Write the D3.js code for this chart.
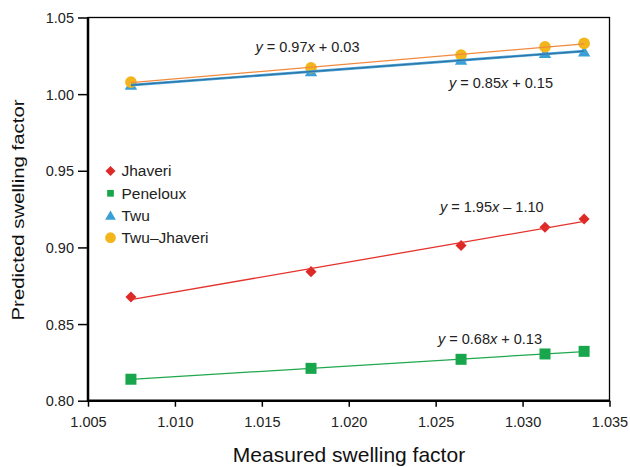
<!DOCTYPE html>
<html><head><meta charset="utf-8">
<script src="https://cdn.jsdelivr.net/npm/d3@7"></script>
<style>body{margin:0;background:#fff}svg{display:block}text{font-family:Arial,"Liberation Sans",sans-serif}</style>
</head><body><svg id="c" width="630" height="467"></svg>
<script>
const measured = [1.00747, 1.01783, 1.02646, 1.03129, 1.03354];
const jhaveri = [0.8677, 0.8842, 0.9012, 0.9132, 0.9186];
const peneloux = [0.8140, 0.8211, 0.8270, 0.8305, 0.8322];
const twu = [1.0059, 1.0146, 1.0222, 1.0266, 1.0276];
const twuJhaveri = [1.0078, 1.0172, 1.0255, 1.0309, 1.0331];
const xTicks = [1.005, 1.010, 1.015, 1.020, 1.025, 1.030, 1.035];
const yTicks = [0.80, 0.85, 0.90, 0.95, 1.00, 1.05];
const seriesNames = ["Jhaveri", "Peneloux", "Twu", "Twu\u2013Jhaveri"];
const equations = [
  ["0.97", "+", "0.03"],
  ["0.85", "+", "0.15"],
  ["1.95", "\u2013", "1.10"],
  ["0.68", "+", "0.13"]
];

const svg = d3.select("#c");
const L = 88, R = 609.5, T = 17.5, B = 400.7;
const x = d3.scaleLinear().domain([1.005, 1.035]).range([L, R]);
const y = d3.scaleLinear().domain([0.80, 1.05]).range([B, T]);

const series = [
  {name: seriesNames[0], vals: jhaveri, color: "#dd2a27", line: "#e4322c", sym: d3.symbolSquare, rot: 45, size: 61, lsize: 50},
  {name: seriesNames[1], vals: peneloux, color: "#17a64c", line: "#1fa84e", sym: d3.symbolSquare, rot: 0, size: 121, lsize: 45},
  {name: seriesNames[2], vals: twu, color: "#3a9fd6", line: "#2c74a8", sym: d3.symbolTriangle, rot: 0, size: 66, lsize: 50},
  {name: seriesNames[3], vals: twuJhaveri, color: "#f3b51c", line: "#f08a3e", sym: d3.symbolCircle, rot: 0, size: 107, lsize: 90}
];

function fit(xs, ys){
  const mx = d3.mean(xs), my = d3.mean(ys);
  let sxy=0, sxx=0;
  xs.forEach((v,i)=>{sxy+=(v-mx)*(ys[i]-my); sxx+=(v-mx)*(v-mx);});
  const m = sxy/sxx; return {m, b: my - m*mx};
}

// axes
const xAxis = d3.axisBottom(x).tickValues(xTicks).tickFormat(d3.format(".3f")).tickSize(6).tickSizeOuter(0);
const yAxis = d3.axisLeft(y).tickValues(yTicks).tickFormat(d3.format(".2f")).tickSize(10).tickSizeOuter(0);
const gx = svg.append("g").attr("transform", `translate(0,${B})`).call(xAxis);
const gy = svg.append("g").attr("transform", `translate(${L},0)`).call(yAxis);
[gx, gy].forEach(g=>{
  g.select(".domain").remove();
  g.selectAll(".tick line").attr("stroke","#000").attr("stroke-width",1.5);
  g.selectAll(".tick text").attr("fill","#222").style("font-size","14.5px");
});
gx.selectAll(".tick text").attr("y",26).attr("dy",null);
gy.selectAll(".tick text").attr("x",-14).attr("dy","0.35em");

// frame
svg.append("rect").attr("x",L).attr("y",T).attr("width",R-L).attr("height",B-T)
  .attr("fill","none").attr("stroke","#000").attr("stroke-width",1.3);
svg.append("line").attr("x1",L).attr("x2",L).attr("y1",T).attr("y2",B+1).attr("stroke","#000").attr("stroke-width",2.5);
svg.append("line").attr("x1",L-1).attr("x2",R).attr("y1",B).attr("y2",B).attr("stroke","#000").attr("stroke-width",2.5);

// markers
series.forEach(s=>{
  svg.append("g").selectAll("path").data(s.vals).join("path")
    .attr("d", d3.symbol().type(s.sym).size(s.size))
    .attr("transform",(d,i)=>`translate(${x(measured[i])},${y(d) + (s.sym===d3.symbolTriangle?1:0)}) rotate(${s.rot})`)
    .attr("fill", s.color);
});
// trend lines
series.forEach(s=>{
  const f = fit(measured, s.vals);
  const x0 = measured[0], x1 = measured[measured.length-1];
  const line = d3.line().x(d=>x(d[0])).y(d=>y(d[1]));
  const pts = [[x0, f.m*x0+f.b],[x1, f.m*x1+f.b]];
  if (s.sym===d3.symbolTriangle){
    svg.append("path").attr("d", line(pts)).attr("stroke", "#4aa3d6").attr("stroke-width", 2.6).attr("fill","none");
    svg.append("path").attr("d", line(pts)).attr("stroke", s.line).attr("stroke-width", 1.2).attr("fill","none");
  } else {
    svg.append("path").attr("d", line(pts)).attr("stroke", s.line).attr("stroke-width", 1.3).attr("fill","none");
  }
});

// legend
const lg = svg.append("g");
const legendY = [171, 193.3, 215.7, 237.7];
series.forEach((s,i)=>{
  const yy = legendY[i];
  lg.append("path").attr("d", d3.symbol().type(s.sym).size(s.lsize))
    .attr("transform",`translate(110.5,${yy + (s.sym===d3.symbolTriangle?1:0)}) rotate(${s.rot})`).attr("fill", s.color);
  lg.append("text").attr("x",121.5).attr("y",yy).attr("dy","0.35em").style("font-size","15.5px").attr("fill","#222").text(s.name);
});

// equations
const eqPos = [[255.5,46.7],[449,83],[440,206.5],[438,338.5]];
equations.forEach((e,i)=>{
  const t = svg.append("text").attr("x",eqPos[i][0]).attr("y",eqPos[i][1]).attr("dy","0.35em").style("font-size","14.5px").attr("fill","#222");
  t.append("tspan").style("font-style","italic").text("y");
  t.append("tspan").text(" = " + e[0]);
  t.append("tspan").style("font-style","italic").text("x");
  t.append("tspan").text(" " + e[1] + " " + e[2]);
});

// axis titles
svg.append("text").attr("x",349).attr("y",461.5).attr("text-anchor","middle").style("font-size","21px").attr("fill","#111").text("Measured swelling factor");
svg.append("text").attr("transform",`translate(24,210) rotate(-90) scale(1,0.8)`).attr("text-anchor","middle").style("font-size","20.4px").attr("fill","#111").text("Predicted swelling factor");
</script></body></html>
